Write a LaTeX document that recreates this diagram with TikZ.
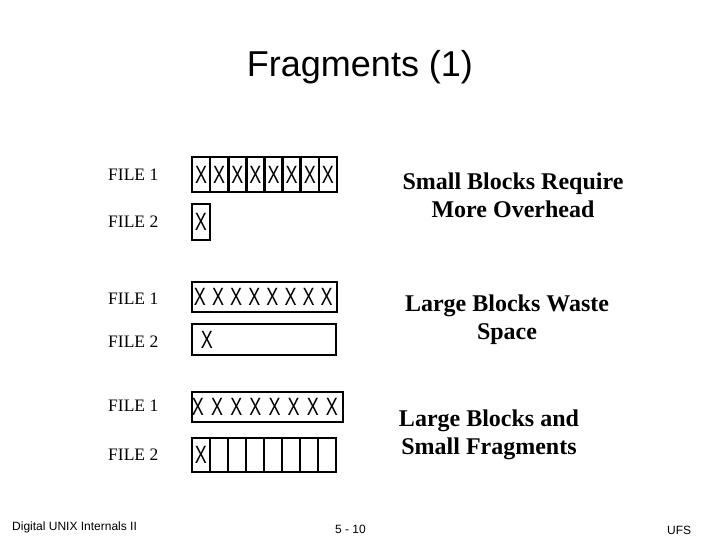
\documentclass[tikz,border=0pt]{standalone}
\usepackage{graphicx}
\usepackage{fontspec}
\setmainfont{Liberation Serif}
\setsansfont{Liberation Sans}
\newcommand{\nx}{\scalebox{0.72}[1]{X}}
\begin{document}
\begin{tikzpicture}[x=1pt,y=-1pt,
  frame/.style={draw, line width=2.5pt, inner sep=0pt},
  cell/.style={frame, minimum width=18.1pt, minimum height=35pt},
  xmark/.style={inner sep=0pt, font=\sffamily\fontsize{25}{25}\selectfont},
  filelbl/.style={anchor=west, inner sep=0pt, font=\fontsize{17.5}{20}\selectfont},
  note/.style={align=center, inner sep=0pt, font=\bfseries\fontsize{24}{28}\selectfont},
  foot/.style={inner sep=0pt, font=\sffamily\fontsize{12}{14}\selectfont}]
\useasboundingbox (0,0) rectangle (720,540);

\node[inner sep=0pt, font=\sffamily\fontsize{36}{40}\selectfont] (title) at (360,67) {Fragments (1)};

% labels
\node[filelbl] (l1) at (108,174.5) {FILE 1};
\node[filelbl] (l2) at (108,222) {FILE 2};
\node[filelbl] (l3) at (108,299) {FILE 1};
\node[filelbl] (l4) at (108,342) {FILE 2};
\node[filelbl] (l5) at (108,406) {FILE 1};
\node[filelbl] (l6) at (108,455) {FILE 2};

% row 1: small blocks, all full
\foreach \i in {0,...,7}
  \node[cell, xmark] (a\i) at ({192+18.125*(\i+0.5)},174.5) {\nx};
% row 2: one small block
\node[cell, xmark, minimum height=36pt] (b0) at (201,222) {\nx};

% row 3: one large block, full
\node[frame, minimum width=145pt, minimum height=30pt] (c) at (264.5,297) {};
\foreach \i in {0,...,7}
  \node[xmark] (cx\i) at ({200+18.1*\i},297) {\nx};
% row 4: one large block, mostly empty
\node[frame, minimum width=144pt, minimum height=31pt] (d) at (264,339.5) {};
\node[xmark] (dx) at (207,339.5) {\nx};

% row 5: large block, full
\node[frame, minimum width=151pt, minimum height=30pt] (e) at (267.5,407) {};
\foreach \i in {0,...,7}
  \node[xmark] (ex\i) at ({198+19.14*\i},407) {\nx};
% row 6: fragments
\node[cell, xmark, minimum height=34pt] (f0) at (201,455) {\nx};
\foreach \i in {1,...,7}
  \node[cell, minimum width=18pt, minimum height=34pt] (f\i) at ({192+18*(\i+0.5)},455) {};

% notes
\node[note] (n1) at (513,195) {Small Blocks Require\\More Overhead};
\node[note] (n2) at (507,320) {Large Blocks Waste\\Space};
\node[note] (n3) at (489,434.5) {Large Blocks and\\Small Fragments};

% footer
\node[foot, anchor=west] (f1) at (12,527) {Digital UNIX Internals II};
\node[foot] (f2) at (350.5,529) {5 - 10};
\node[foot, anchor=west] (f3) at (667,530) {UFS};
\end{tikzpicture}
\end{document}
